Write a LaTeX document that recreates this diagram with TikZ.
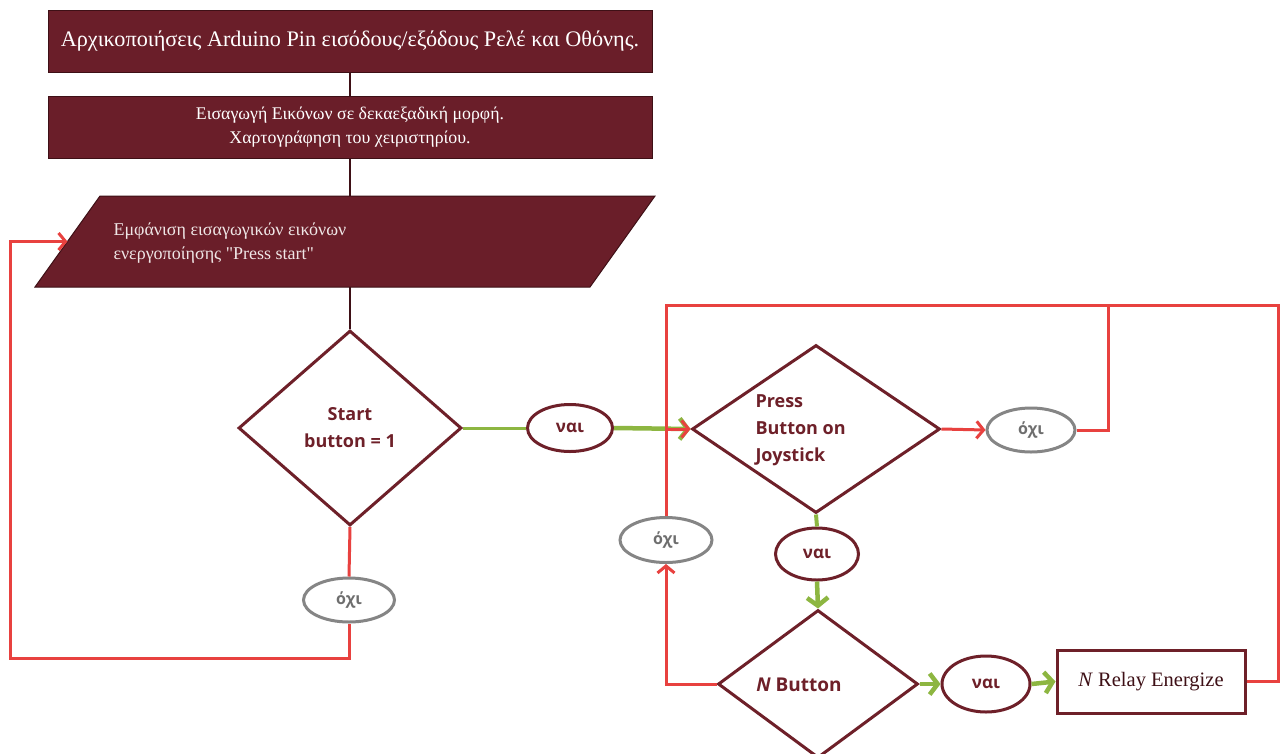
\documentclass[tikz,border=0pt]{standalone}
\usepackage{fontspec}
\setmainfont{Liberation Serif}
\setsansfont{Open Sans}
\newfontfamily\plainserif{Liberation Serif}
\usetikzlibrary{shapes.geometric,arrows.meta,calc}
\definecolor{boxfill}{HTML}{6A1E29}
\definecolor{boxedge}{HTML}{3E1016}
\definecolor{maroonline}{HTML}{6E2029}
\definecolor{flowred}{HTML}{E8413F}
\definecolor{flowgreen}{HTML}{8DB641}
\definecolor{nogrey}{HTML}{858585}
\definecolor{notext}{HTML}{6E6E6E}
\definecolor{paletext}{HTML}{EFE6E6}

\begin{document}
\begin{tikzpicture}[x=1pt,y=-1pt,
  procbox/.style={rectangle, draw=boxedge, line width=1pt, fill=boxfill,
    minimum width=604pt, minimum height=62pt, inner sep=0pt, text=white, align=center},
  iobox/.style={fill=boxfill, draw=boxedge, line width=1pt},
  decision/.style={diamond, draw=maroonline, line width=3pt, fill=white, inner sep=0pt},
  dtext/.style={text=maroonline, font=\sffamily\bfseries\fontsize{18}{27}\selectfont, align=center},
  yesnode/.style={ellipse, draw=maroonline, line width=3pt, fill=white, inner sep=0pt,
    text=maroonline, font=\sffamily\bfseries\fontsize{17}{20}\selectfont},
  nonode/.style={ellipse, draw=nogrey, line width=3pt, fill=white, inner sep=0pt,
    text=notext, font=\sffamily\bfseries\fontsize{16}{20}\selectfont},
  relaybox/.style={rectangle, draw=maroonline, line width=3pt, fill=white,
    minimum width=188pt, minimum height=63pt, inner sep=0pt, text=boxedge,
    font=\fontsize{20.5}{24}\selectfont},
  darkline/.style={draw=boxedge, line width=2pt},
  redline/.style={draw=flowred, line width=3pt},
  redarrow/.style={redline, -{Straight Barb[length=7pt,width=17pt]}},
  greenline/.style={draw=flowgreen, line width=3pt},
  greenarrow/.style={draw=flowgreen, line width=4.5pt, -{Straight Barb[length=8pt,width=21pt]}}
]
\useasboundingbox (0,0) rectangle (1280,753);
\fill[white] (0,0) rectangle (1280,753);

% set-up blocks
\node[procbox, font=\fontsize{22.2}{26}\selectfont] (init) at (350,41)
  {Αρχικοποιήσεις Arduino Pin εισόδους/εξόδους Ρελέ και Οθόνης.};
\node[procbox, font=\fontsize{17.8}{24}\selectfont] (hex) at (350,127)
  {Εισαγωγή Εικόνων σε δεκαεξαδική μορφή.\\Χαρτογράφηση του χειριστηρίου.};

% input/output parallelogram
\filldraw[iobox] (100,196) -- (655,196) -- (590,287) -- (35,287) -- cycle;
\coordinate (intro-west) at (67.5,241.5);
\coordinate (intro-top) at (350,196);
\coordinate (intro-bottom) at (350,287);
\node[anchor=west, align=left, text=paletext, font=\plainserif\fontsize{18}{24}\selectfont]
  (introtext) at (110,243) {Εμφάνιση εισαγωγικών εικόνων\\ενεργοποίησης "Press start"};

% decisions
\node[decision, minimum width=223pt, minimum height=195pt] (start) at (350,428) {};
\node[dtext] (starttext) at (start) {Start\\button = 1};
\node[decision, minimum width=248pt, minimum height=168pt] (joy) at (816,429) {};
\node[dtext, align=left, anchor=west] (joytext) at (752,430) {Press\\Button on\\Joystick};
\node[decision, minimum width=200pt, minimum height=148pt] (nbtn) at (818,684) {};
\node[dtext, font=\sffamily\bfseries\fontsize{19}{24}\selectfont] (nbtntext) at (799,685)
  {\textit{N} Button};

% yes / no labels
\node[yesnode, minimum width=85pt, minimum height=47pt] (yes1) at (570,428) {ναι};
\node[yesnode, minimum width=83pt, minimum height=52pt] (yes2) at (817,554) {ναι};
\node[yesnode, minimum width=88pt, minimum height=56pt] (yes3) at (986,684) {ναι};
\node[nonode, minimum width=91pt, minimum height=44pt] (no1) at (349,600) {όχι};
\node[nonode, minimum width=88pt, minimum height=44pt] (no2) at (1031,430) {όχι};
\node[nonode, minimum width=92pt, minimum height=45pt] (no3) at (666,540) {όχι};

% output block
\node[relaybox] (relay) at (1151,681.5) {\textit{N} Relay Energize};

% routing corners
\coordinate (leftcorner) at (10,658);
\coordinate (topleft) at (666,305);
\coordinate (topmid) at (1108,305);
\coordinate (topright) at (1278,305);

% main sequence
\draw[darkline] (init.south) -- (hex.north);
\draw[darkline] (hex.south) -- (intro-top);
\draw[darkline] (intro-bottom) -- (start.north);

% start button
\draw[greenline] (start.east) -- (yes1.west);
\draw[greenarrow] (yes1.east) -- (joy.west);
\draw[redline] (start.south) -- (no1.north);
\draw[redarrow] (no1.south) |- (leftcorner) |- (intro-west);

% joystick loop
\draw[redarrow] (relay.east) -| (topright) -- (topleft) |- (joy.west);
\draw[redarrow] (joy.east) -- (no2.west);
\draw[redline] (no2.east) -| (topmid);
\draw[redline] (no3.north) -- (no3.north |- joy.west);
\draw[redarrow] (nbtn.west) -| (no3.south);

% yes path to relay
\draw[draw=flowgreen, line width=4pt] (joy.south) -- (yes2.north);
\draw[greenarrow] (yes2.south) -- (nbtn.north);
\draw[greenarrow] (nbtn.east) -- (yes3.west);
\draw[greenarrow] (yes3.east) -- (relay.west);
\end{tikzpicture}
\end{document}
